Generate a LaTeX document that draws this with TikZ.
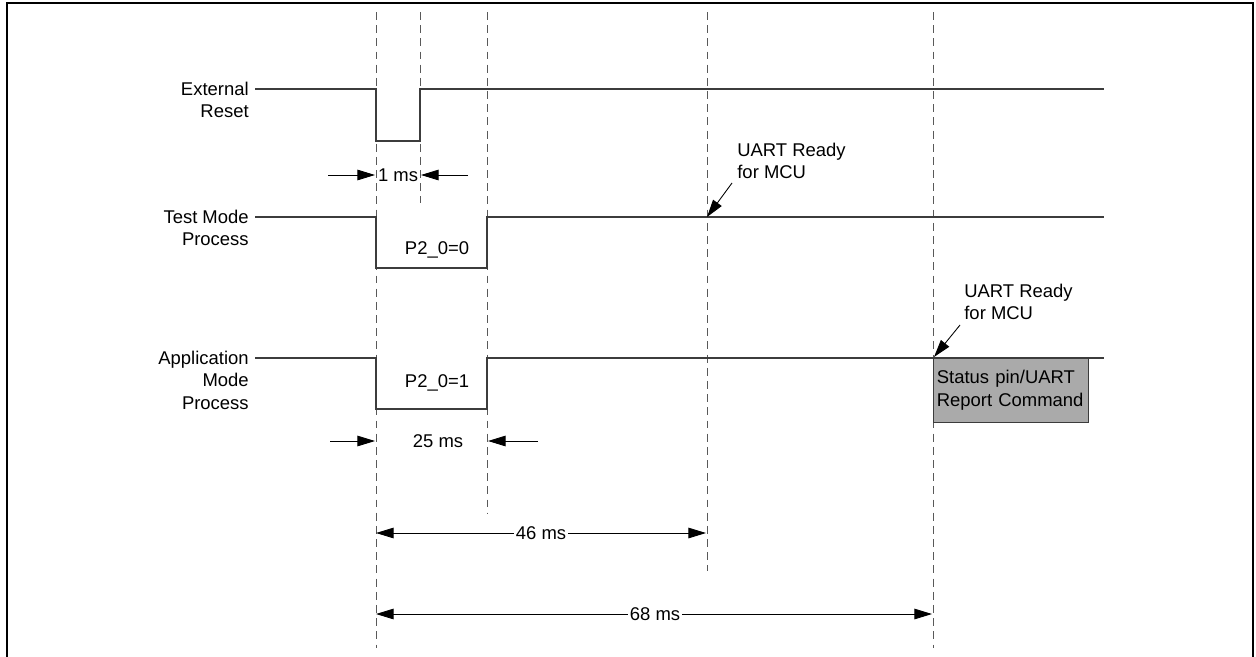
\documentclass[tikz,border=0pt]{standalone}
\usepackage{fontspec}
\setmainfont{Liberation Sans}
\usepackage{tikz}
\usetikzlibrary{positioning,arrows.meta}
\usepackage{xcolor}
\definecolor{boxgray}{RGB}{170,170,170}
\definecolor{wire}{RGB}{60,60,60}

\begin{document}
\begin{tikzpicture}[x=0.02cm, y=-0.02cm,
  font=\fontsize{10.5}{12.8}\selectfont,
  sig/.style={draw=wire, line width=0.6pt},
  guide/.style={draw=black!65, line width=0.5pt, dash pattern=on 4.5pt off 3pt},
  lbl/.style={align=right, anchor=east, inner sep=0pt},
  note/.style={align=left, anchor=west, inner sep=0pt},
  arr/.style={-{Triangle[length=10pt,width=6pt]}, line width=0.5pt},
  dim/.style={{Triangle[length=10pt,width=6pt]}-{Triangle[length=10pt,width=6pt]}, line width=0.5pt},
  status/.style={draw=wire, fill=boxgray, anchor=north west, align=left,
    minimum width=3.1cm, minimum height=1.28cm, text width=2.96cm, inner xsep=2pt}
]
\useasboundingbox (0,0) rectangle (1256,656);
\draw[line width=1.2pt] (7,660) -- (7,3) -- (1253,3) -- (1253,660);

% time marks
\draw[guide] (376,12) -- (376,648);
\draw[guide] (420,12) -- (420,203);
\draw[guide] (487,12) -- (487,513);
\draw[guide] (707,12) -- (707,571);
\draw[guide] (933,12) -- (933,648);

% signal names
\node[lbl] (rst) at (249,100) {External\\Reset};
\node[lbl] (tm) at (249,228) {Test Mode\\Process};
\node[lbl] (am) at (249,380) {Application\\Mode\\Process};

% waveforms
\draw[sig] (255,89) -- (376,89) -- (376,141) -- (420,141) -- (420,89) -- (1104,89);
\draw[sig] (255,217) -- (376,217) -- (376,268) -- (487,268) -- (487,217) -- (1104,217);
\draw[sig] (255,358) -- (376,358) -- (376,409) -- (487,409) -- (487,358) -- (1104,358);
\node (p0) at (437,250) {P2\_0=0};
\node (p1) at (437,383) {P2\_0=1};

% 1 ms
\node[inner sep=1pt] (d1) at (398,175) {1 ms};
\coordinate (d1a) at (328,175); \coordinate (d1b) at (375,175);
\coordinate (d1c) at (468,175); \coordinate (d1d) at (421,175);
\draw[arr] (d1a) -- (d1b);
\draw[arr] (d1c) -- (d1d);

% 25 ms
\node (d25) at (438,441) {25 ms};
\coordinate (d25a) at (330,441); \coordinate (d25b) at (375,441);
\coordinate (d25c) at (538,441); \coordinate (d25d) at (488,441);
\draw[arr] (d25a) -- (d25b);
\draw[arr] (d25c) -- (d25d);

% 46 ms and 68 ms
\coordinate (s46) at (376,533); \coordinate (e46) at (706,533);
\draw[dim] (s46) -- (e46);
\node[fill=white, inner sep=1pt] (d46) at (541,533) {46 ms};
\coordinate (s68) at (376,614); \coordinate (e68) at (932,614);
\draw[dim] (s68) -- (e68);
\node[fill=white, inner sep=1pt] (d68) at (655,614) {68 ms};

% UART ready marks
\node[note] (rdy1) at (737,161) {UART Ready\\for MCU};
\coordinate (rdy1t) at (732,183); \coordinate (rdy1h) at (707,217);
\draw[arr] (rdy1t) -- (rdy1h);
\node[note] (rdy2) at (964,302) {UART Ready\\for MCU};
\coordinate (rdy2t) at (960,325); \coordinate (rdy2h) at (934,357);
\draw[arr] (rdy2t) -- (rdy2h);

\node[status] (stat) at (933,358) {Status pin/UART\\Report Command};
\end{tikzpicture}
\end{document}
